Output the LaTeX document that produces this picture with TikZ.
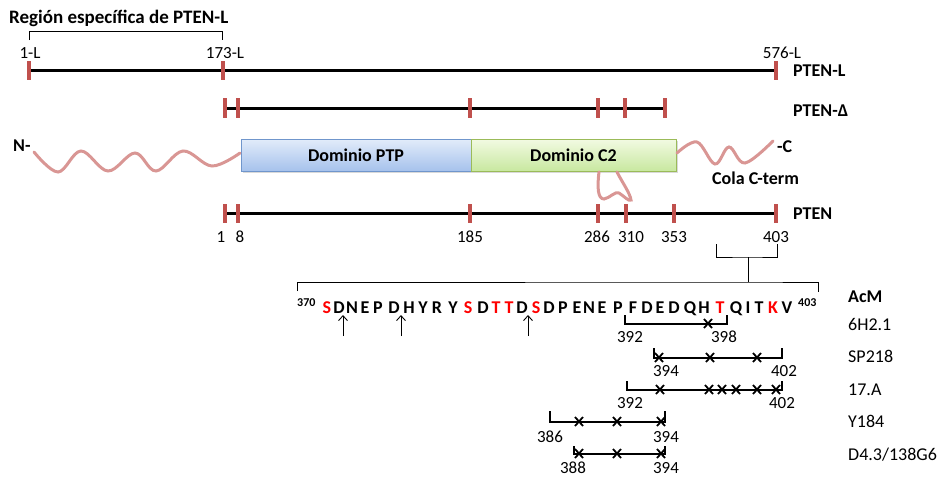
\documentclass[tikz,border=0pt]{standalone}
\usepackage{fontspec}
\setmainfont{Carlito}
\usetikzlibrary{arrows.meta,shadows}
\definecolor{tickred}{HTML}{C0504D}
\definecolor{wavecol}{HTML}{D99694}
\definecolor{seqred}{HTML}{FF0000}
\definecolor{ptptop}{HTML}{E2ECFA}
\definecolor{ptpbot}{HTML}{A6C2EC}
\definecolor{ptpdraw}{HTML}{7096CC}
\definecolor{c2top}{HTML}{F2FAE2}
\definecolor{c2bot}{HTML}{C8E8A0}
\definecolor{c2draw}{HTML}{9BBB59}
\begin{document}
\begin{tikzpicture}[x=1pt,y=-1pt,
  num/.style={font=\fontsize{17}{18}\selectfont, inner sep=0pt, anchor=base},
  blab/.style={font=\bfseries\fontsize{18}{20}\selectfont, inner sep=0pt, anchor=base west},
  rlab/.style={font=\fontsize{18}{20}\selectfont, inner sep=0pt, anchor=base west},
  titlab/.style={font=\bfseries\fontsize{19}{22}\selectfont, inner sep=0pt, anchor=base west},
  domlab/.style={font=\bfseries\fontsize{18}{20}\selectfont},
  seqlet/.style={font=\bfseries\fontsize{18}{19}\selectfont, inner sep=0pt, anchor=base},
  supnum/.style={font=\bfseries\fontsize{12}{13}\selectfont, inner sep=0pt, anchor=base west},
  bar/.style={line width=3pt, black},
  tk/.style={line width=4.5pt, tickred},
  wav/.style={line width=3pt, wavecol, line cap=round},
  thinline/.style={line width=1pt, black},
  epi/.style={line width=2pt, black},
  xm/.style={line width=1.8pt, black},
  uparrow/.style={line width=0.9pt, -{Straight Barb[length=5pt,width=9pt]}},
  dombox/.style={draw, line width=1pt, minimum height=32pt, inner sep=0pt,
    drop shadow={opacity=0.3, shadow xshift=2pt, shadow yshift=-2pt}}
]
\useasboundingbox (0,0) rectangle (943,477);

% ---------- title and top bracket
\node[titlab] (title) at (9,23) {Región específica de PTEN-L};
\coordinate (brA) at (29,40);
\coordinate (brB) at (222,40);
\draw[thinline] (brA) -- ++(0,-9) -| (brB);

% ---------- PTEN-L
\coordinate (L1) at (29,70);
\coordinate (L576) at (776,70);
\draw[bar] (L1) -- (L576);
\foreach \xx in {29,223,776} \draw[tk] (\xx,61) -- (\xx,80);
\node[num] (nL1) at (30,58) {1-L};
\node[num] (nL173) at (225,58) {173-L};
\node[num] (nL576) at (782,58) {576-L};
\node[blab] (lPTENL) at (793,76) {PTEN-L};

% ---------- PTEN-Delta
\coordinate (D1) at (225,108);
\coordinate (D2) at (665,108);
\draw[bar] (D1) -- (D2);
\foreach \xx in {225,238,470,598,625,665} \draw[tk] (\xx,98) -- (\xx,118);
\node[blab] (lPTEND) at (793,116) {PTEN-Δ};

% ---------- domains
\node[dombox, draw=ptpdraw, top color=ptptop, bottom color=ptpbot,
      minimum width=230pt, domlab] (ptp) at (356,155) {Dominio PTP};
\node[dombox, draw=c2draw, top color=c2top, bottom color=c2bot,
      minimum width=205pt, domlab] (c2) at (573.5,155) {Dominio C2};

\node[blab] (nterm) at (13,151) {N-};
\node[blab] (cterm) at (777,152) {-C};
\node[blab] (cola) at (712,184) {Cola C-term};

\draw[wav] plot[smooth, tension=0.6] coordinates {(34,152) (58,172) (81,151) (108,171) (135,153) (156,171) (183,151) (212,166) (240,153)};
\draw[wav] plot[smooth, tension=0.6] coordinates {(677,153) (697,142) (715,164) (729,147) (745,163) (773,141)};
\draw[wav] (599,172) .. controls (597,188) and (598,199) .. (604,199)
  .. controls (610,198) and (615,191) .. (619,193)
  .. controls (624,196) and (629,202) .. (631,200)
  .. controls (630,193) and (622,182) .. (617,172);

% ---------- PTEN
\coordinate (P1) at (225,213);
\coordinate (P403) at (776,213);
\draw[bar] (P1) -- (P403);
\foreach \xx in {225,238,470,598,626,674,776} \draw[tk] (\xx,204) -- (\xx,223);
\node[blab] (lPTEN) at (793,219) {PTEN};
\foreach \xx/\tt in {221/1,240/8,470/185,597/286,631/310,674/353,776/403}
  \node[num] (p\tt) at (\xx,242) {\tt};

% ---------- zoom bracket
\coordinate (zA) at (716,244);
\coordinate (zB) at (777,244);
\coordinate (zM) at (748,257);
\coordinate (zC) at (297,291);
\coordinate (zD) at (818,292);
\draw[thinline] (zA) |- (zM) -| (zB);
\draw[thinline] (zM) -- (748,282);
\draw[thinline] (zC) |- (748,282) -| (zD);

% ---------- sequence
\node[supnum] (s370) at (297,306) {370};
\foreach \ch/\xx/\cc [count=\i] in {S/327/seqred,D/339/black,N/352/black,E/365/black,P/378/black,
  D/394/black,H/409/black,Y/423/black,R/437/black,Y/453/black,S/468/seqred,D/483/black,
  T/496/seqred,T/509/seqred,D/522/black,S/536/seqred,D/549/black,P/563/black,E/577/black,
  N/589/black,E/602/black,P/618/black,F/633/black,D/647/black,E/660/black,D/674/black,
  Q/690/black,H/704/black,T/720/seqred,Q/736/black,I/748/black,T/759/black,K/773/seqred,V/787/black}
  \node[seqlet, text=\cc] (q\i) at (\xx,313) {\ch};
\node[supnum] (s403) at (798,306) {403};

\foreach \xx [count=\i] in {343,401,528} {
  \coordinate (ar\i) at (\xx,336);
  \draw[uparrow] (ar\i) -- (\xx,315);
}

% ---------- antibodies
\node[blab] (acm) at (848,302) {AcM};
\node[rlab] (ab1) at (848,330) {6H2.1};
\node[rlab] (ab2) at (848,362) {SP218};
\node[rlab] (ab3) at (848,395) {17.A};
\node[rlab] (ab4) at (848,427) {Y184};
\node[rlab] (ab5) at (848,460) {D4.3/138G6};

% 6H2.1
\draw[epi] (625,315) -- (625,324) -- (727,324) -- (727,315);
\foreach \xx in {708} {\draw[xm] (\xx-4,319) -- (\xx+4,328); \draw[xm] (\xx+4,319) -- (\xx-4,328);}
\node[num] (e1a) at (630,342) {392};
\node[num] (e1b) at (724,342) {398};

% SP218
\draw[epi] (654,348) -- (654,358) -- (782,358) -- (782,348);
\foreach \xx in {659,710,757} {\draw[xm] (\xx-4,353) -- (\xx+4,362); \draw[xm] (\xx+4,353) -- (\xx-4,362);}
\node[num] (e2a) at (666,376) {394};
\node[num] (e2b) at (784,376) {402};

% 17.A
\draw[epi] (627,381) -- (627,390) -- (782,390) -- (782,381);
\foreach \xx in {660,709,722,736,757,776} {\draw[xm] (\xx-4,385) -- (\xx+4,394); \draw[xm] (\xx+4,385) -- (\xx-4,394);}
\node[num] (e3a) at (630,408) {392};
\node[num] (e3b) at (782,408) {402};

% Y184
\draw[epi] (550,411) -- (550,422) -- (665,422) -- (665,411);
\foreach \xx in {579,617,661} {\draw[xm] (\xx-4,417) -- (\xx+4,426); \draw[xm] (\xx+4,417) -- (\xx-4,426);}
\node[num] (e4a) at (550,442) {386};
\node[num] (e4b) at (666,442) {394};

% D4.3/138G6
\draw[epi] (574,446) -- (574,454) -- (665,454) -- (665,446);
\foreach \xx in {579,617,661} {\draw[xm] (\xx-4,449) -- (\xx+4,458); \draw[xm] (\xx+4,449) -- (\xx-4,458);}
\node[num] (e5a) at (573,473) {388};
\node[num] (e5b) at (666,473) {394};
\end{tikzpicture}
\end{document}
